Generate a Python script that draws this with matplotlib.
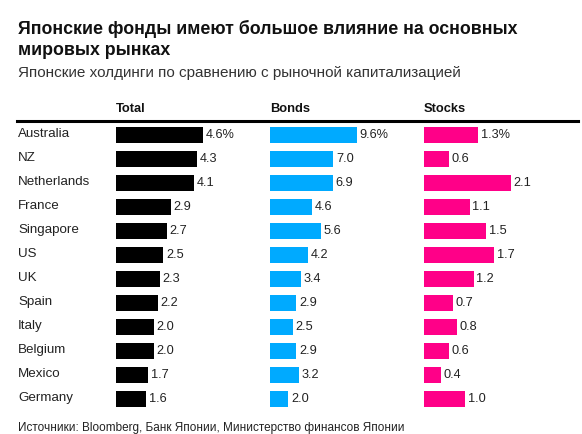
import matplotlib
matplotlib.use("Agg")
import matplotlib.pyplot as plt

countries = ["Australia", "NZ", "Netherlands", "France", "Singapore", "US",
             "UK", "Spain", "Italy", "Belgium", "Mexico", "Germany"]
total = [4.6, 4.3, 4.1, 2.9, 2.7, 2.5, 2.3, 2.2, 2.0, 2.0, 1.7, 1.6]
bonds = [9.6, 7.0, 6.9, 4.6, 5.6, 4.2, 3.4, 2.9, 2.5, 2.9, 3.2, 2.0]
stocks = [1.3, 0.6, 2.1, 1.1, 1.5, 1.7, 1.2, 0.7, 0.8, 0.6, 0.4, 1.0]
columns = ["Total", "Bonds", "Stocks"]

title_lines = ["Японские фонды имеют большое влияние на основных", "мировых рынках"]
subtitle = "Японские холдинги по сравнению с рыночной капитализацией"
source = "Источники: Bloomberg, Банк Японии, Министерство финансов Японии"

W, H = 582, 434
plt.rcParams['font.family'] = ['Liberation Sans', 'DejaVu Sans']
fig = plt.figure(figsize=(W / 100, H / 100), dpi=100)

def fx(x):
    return x / W

def fy(y):
    return 1 - y / H

# Title / subtitle
for line, yb in zip(title_lines, [34.5, 55]):
    fig.text(fx(18), fy(yb), line, fontsize=12.75, fontweight='bold', color='#111111',
             ha='left', va='baseline')
fig.text(fx(18), fy(77), subtitle, fontsize=11.0, color='#333333', ha='left', va='baseline')

# header line
fig.add_artist(plt.Line2D([fx(17), fx(578)], [fy(121), fy(121)], color='black', lw=2.2))

col_x = [116, 270, 424]
col_w = 150
bar_px = 87
colors = ['#000000', '#00AAFF', '#FF0088']
series = [total, bonds, stocks]

top, bottom = 123, 411
n = len(countries)
for ci, (cx, vals, col, name) in enumerate(zip(col_x, series, colors, columns)):
    ax = fig.add_axes([fx(cx), fy(bottom), fx(col_w), (bottom - top) / H])
    mx = max(vals)
    ax.set_xlim(0, mx * col_w / bar_px)
    ax.set_ylim(n - 0.5, -0.5)
    ypos = list(range(n))
    ax.barh(ypos, vals, height=0.67, color=col)
    for i, v in enumerate(vals):
        lab = f"{v:.1f}%" if i == 0 else f"{v:.1f}"
        ax.annotate(lab, (v, i), xytext=(2, 0), textcoords='offset points',
                    ha='left', va='center', fontsize=9.2, color='#222222')
    ax.axis('off')
    fig.text(fx(cx), fy(112), name, fontsize=9.3, fontweight='bold', color='#111111',
             ha='left', va='baseline')

for i, c in enumerate(countries):
    y = top + 12 + 24 * i
    fig.text(fx(18), fy(y - 1), c, fontsize=9.6, color='#222222', ha='left', va='center')

fig.text(fx(18), fy(431.5), source, fontsize=8.45, color='#222222', ha='left', va='baseline')

fig.savefig("out.png", dpi=100)
